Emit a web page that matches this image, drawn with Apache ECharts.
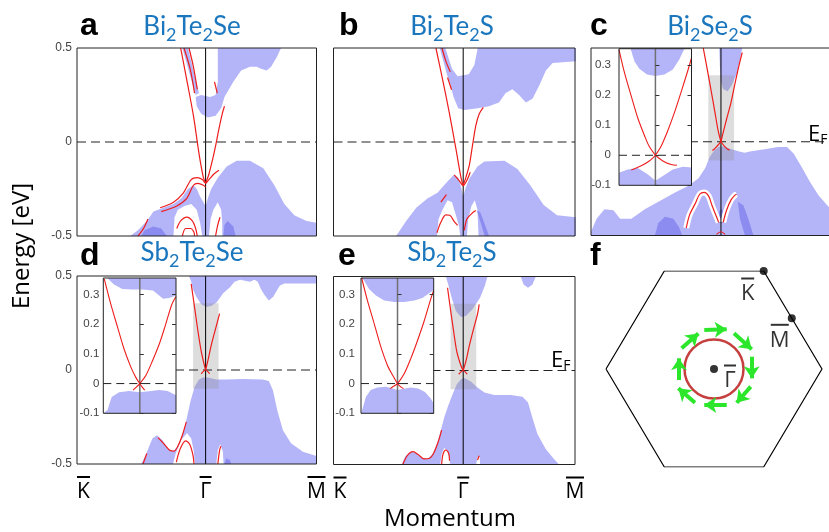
<!DOCTYPE html>
<html>
<head>
<meta charset="utf-8">
<script src="https://cdn.jsdelivr.net/npm/echarts@6/dist/echarts.min.js"></script>
<style>
  html, body { margin: 0; padding: 0; background: #fff; }
  #chart { width: 829px; height: 532px; }
</style>
</head>
<body>
<div id="chart"></div>
<script>
// ---- axes / ticks ----
const kTicks = [-1.16, 0, 1]          // K, Gamma, M along the cut
const kLabels = ['K', 'Γ', 'M']
const eTicks = [-0.5, 0, 0.5]         // energy [eV]
const insetK = [-0.113, 0.112]
const insetE = [-0.1, 0.355]
const insetTicks = [-0.1, 0, 0.1, 0.2, 0.3]
const zoomK = [-0.113, 0.117]         // grey window shown in the insets
const zoomE = [-0.1, 0.355]

// ---- a: Bi2Te2Se ----
const aCond = [[0.11,0.5],[0.68,0.5],[0.64,0.45],[0.59,0.40],[0.55,0.38],[0.50,0.39],[0.46,0.40],[0.40,0.40],[0.32,0.38],[0.25,0.32],[0.17,0.24],[0.14,0.18],[0.09,0.14],[0.02,0.13],[-0.04,0.15],[-0.08,0.19],[-0.09,0.24],[-0.04,0.25],[0.04,0.24],[0.09,0.25],[0.11,0.32]]
const aStrip = [[-0.21,0.5],[-0.16,0.5],[-0.06,0.26],[-0.09,0.25]]
const aVal = [[-0.68,-0.5],[-0.61,-0.47],[-0.53,-0.42],[-0.47,-0.37],[-0.38,-0.35],[-0.29,-0.33],[-0.22,-0.30],[-0.16,-0.25],[-0.11,-0.23],[-0.08,-0.25],[-0.05,-0.29],[-0.02,-0.32],[0,-0.34],[0.02,-0.30],[0.05,-0.25],[0.11,-0.19],[0.19,-0.13],[0.28,-0.10],[0.40,-0.10],[0.52,-0.14],[0.62,-0.23],[0.71,-0.33],[0.80,-0.39],[0.91,-0.42],[1.0,-0.43],[1.0,-0.5]]
const aHoles = [
  [[-0.29,-0.5],[-0.28,-0.40],[-0.25,-0.36],[-0.19,-0.34],[-0.13,-0.33],[-0.08,-0.36],[-0.05,-0.43],[-0.03,-0.5]],
  [[0.03,-0.5],[0.045,-0.41],[0.07,-0.36],[0.11,-0.32],[0.14,-0.36],[0.15,-0.43],[0.15,-0.5]]
]
const aDark = [
  [[-0.58,-0.5],[-0.55,-0.47],[-0.47,-0.45],[-0.40,-0.46],[-0.35,-0.5]],
  [[0.16,-0.5],[0.17,-0.44],[0.20,-0.42],[0.25,-0.45],[0.27,-0.5]]
]
const aRed = [
  [[-0.225,0.5],[-0.17,0.33],[-0.11,0.14],[-0.06,-0.06],[-0.02,-0.19],[0,-0.22]],
  [[0,-0.22],[0.03,-0.17],[0.06,-0.10],[0.09,-0.02],[0.12,0.07],[0.15,0.15],[0.17,0.19]],
  [[-0.195,0.5],[-0.14,0.39],[-0.10,0.26]],
  [[-0.15,0.5],[-0.11,0.40],[-0.075,0.28]],
  [[0.08,0.32],[0.105,0.26]],
  [[-0.41,-0.35],[-0.29,-0.32],[-0.20,-0.27],[-0.13,-0.20],[-0.075,-0.19],[-0.03,-0.20],[0,-0.22],[0.03,-0.20],[0.075,-0.17],[0.12,-0.15]],
  [[-0.40,-0.37],[-0.26,-0.34],[-0.17,-0.30],[-0.11,-0.23],[-0.07,-0.22],[-0.02,-0.23],[0,-0.24]],
  [[-0.26,-0.46],[-0.225,-0.42],[-0.17,-0.40],[-0.12,-0.42],[-0.09,-0.46],[-0.075,-0.5]],
  [[-0.21,-0.5],[-0.18,-0.46],[-0.135,-0.46],[-0.105,-0.48],[-0.10,-0.5]],
  [[0.09,-0.5],[0.11,-0.44],[0.13,-0.40]],
  [[-0.61,-0.5],[-0.56,-0.46],[-0.52,-0.41]]
]

// ---- b: Bi2Te2S ----
const bCond = [[-0.21,0.5],[-0.16,0.5],[-0.10,0.39],[-0.05,0.35],[0.05,0.36],[0.10,0.41],[0.13,0.5],[1.01,0.5],[1.01,0.43],[0.80,0.42],[0.74,0.38],[0.68,0.30],[0.62,0.23],[0.56,0.21],[0.50,0.25],[0.44,0.28],[0.38,0.26],[0.32,0.21],[0.23,0.19],[0.13,0.18],[0.01,0.17],[-0.045,0.18],[-0.086,0.24],[-0.116,0.31],[-0.146,0.36]]
const bVal = [[-0.60,-0.5],[-0.51,-0.42],[-0.42,-0.35],[-0.32,-0.30],[-0.23,-0.27],[-0.155,-0.22],[-0.086,-0.175],[-0.045,-0.19],[-0.015,-0.25],[0,-0.29],[0.018,-0.25],[0.054,-0.196],[0.128,-0.13],[0.19,-0.104],[0.37,-0.10],[0.485,-0.143],[0.60,-0.23],[0.72,-0.335],[0.84,-0.39],[1.01,-0.40],[1.01,-0.5]]
const bHoles = [
  [[-0.235,-0.5],[-0.22,-0.41],[-0.185,-0.36],[-0.14,-0.31],[-0.10,-0.32],[-0.065,-0.39],[-0.036,-0.45],[-0.027,-0.5]],
  [[0.033,-0.5],[0.045,-0.41],[0.074,-0.34],[0.104,-0.31],[0.128,-0.36],[0.137,-0.5]]
]
const bDark = [[[0.122,-0.365],[0.152,-0.373],[0.232,-0.5],[0.193,-0.5]]]
const bRed = [
  [[-0.244,0.5],[-0.185,0.335],[-0.125,0.158],[-0.065,-0.037],[-0.02,-0.188],[0,-0.232]],
  [[0,-0.232],[0.024,-0.188],[0.054,-0.126],[0.083,-0.019],[0.113,0.087],[0.143,0.149],[0.18,0.184]],
  [[-0.19,0.5],[-0.155,0.43],[-0.116,0.373]],
  [[-0.14,0.343],[-0.104,0.278]],
  [[-0.08,-0.175],[-0.036,-0.205],[0,-0.232],[0.039,-0.196],[0.063,-0.161]],
  [[-0.2,-0.32],[-0.15,-0.28]],
  [[-0.235,-0.483],[-0.2,-0.427],[-0.155,-0.388],[-0.12,-0.39],[-0.08,-0.423],[-0.05,-0.444]],
  [[0.01,-0.47],[0.033,-0.41],[0.074,-0.382],[0.113,-0.365]]
]

// ---- c: Bi2Se2S ----
const cCond = [[-0.015,0.5],[0.19,0.5],[0.17,0.44],[0.14,0.36],[0.095,0.30],[0.06,0.27],[0.02,0.28],[0,0.32],[-0.01,0.41]]
const cVal = [[-1.16,-0.5],[-1.16,-0.48],[-1.11,-0.41],[-1.04,-0.36],[-0.96,-0.365],[-0.90,-0.41],[-0.80,-0.41],[-0.68,-0.36],[-0.53,-0.31],[-0.41,-0.27],[-0.29,-0.235],[-0.20,-0.195],[-0.14,-0.14],[-0.10,-0.08],[-0.06,-0.046],[-0.024,-0.028],[0,-0.023],[0.036,-0.028],[0.095,-0.04],[0.155,-0.05],[0.21,-0.058],[0.27,-0.05],[0.39,-0.04],[0.51,-0.028],[0.59,-0.028],[0.65,-0.064],[0.72,-0.135],[0.795,-0.214],[0.87,-0.285],[0.96,-0.347],[1.02,-0.365],[1.02,-0.5]]
const cDark = [
  [[-0.59,-0.5],[-0.56,-0.435],[-0.50,-0.40],[-0.425,-0.41],[-0.375,-0.455],[-0.345,-0.5]],
  [[-0.03,-0.43],[-0.018,-0.373],[0.006,-0.356],[0.036,-0.382],[0.042,-0.427],[0.006,-0.435]],
  [[0.15,-0.32],[0.2,-0.338],[0.244,-0.41],[0.29,-0.5],[0.214,-0.5],[0.17,-0.41]]
]
const cArches = [
  [[-0.31,-0.46],[-0.28,-0.39],[-0.23,-0.33],[-0.19,-0.28],[-0.15,-0.27],[-0.11,-0.29],[-0.08,-0.34],[-0.04,-0.40],[-0.02,-0.43]],
  [[0.02,-0.43],[0.05,-0.365],[0.09,-0.31],[0.125,-0.285],[0.14,-0.28]]
]
const cRed = [
  [[-0.158,0.5],[-0.128,0.405],[-0.09,0.28],[-0.054,0.158],[-0.024,0.055],[0,0]],
  [[0,0],[0.02,0.05],[0.05,0.12],[0.09,0.21],[0.125,0.31],[0.16,0.405],[0.19,0.476]],
  [[0,0],[-0.03,-0.02],[-0.06,-0.04],[-0.077,-0.046]],
  [[0,0],[0.03,-0.023],[0.06,-0.04],[0.077,-0.044]],
  [[-0.04,-0.494],[0,-0.48],[0.036,-0.494]]
].concat(cArches)
const ciTop = [[-0.077,0.355],[0.09,0.355],[0.074,0.319],[0.054,0.286],[0.028,0.269],[0,0.264],[-0.026,0.269],[-0.05,0.288],[-0.065,0.313]]
const ciBot = [[-0.113,-0.1],[-0.113,-0.058],[-0.086,-0.047],[-0.055,-0.042],[-0.024,-0.063],[0,-0.085],[0.023,-0.069],[0.054,-0.047],[0.085,-0.038],[0.112,-0.041],[0.112,-0.1]]
const ciRed = [
  [[-0.113,0.352],[-0.096,0.275],[-0.075,0.197],[-0.055,0.125],[-0.034,0.066],[-0.019,0.029],[0,0]],
  [[0,0],[0.018,0.031],[0.038,0.081],[0.059,0.142],[0.079,0.208],[0.1,0.28],[0.112,0.324]],
  [[-0.075,-0.049],[-0.044,-0.035],[-0.019,-0.019],[0,0]],
  [[0,0],[0.023,-0.019],[0.049,-0.031],[0.067,-0.033]]
]

// ---- d: Sb2Te2Se ----
const dCond = [[-0.15,0.5],[1.0,0.5],[1.0,0.46],[0.71,0.46],[0.67,0.45],[0.64,0.42],[0.61,0.39],[0.57,0.37],[0.53,0.40],[0.50,0.43],[0.47,0.47],[0.44,0.48],[0.40,0.47],[0.31,0.48],[0.26,0.47],[0.22,0.44],[0.16,0.41],[0.10,0.36],[0.05,0.34],[0.006,0.335],[-0.04,0.35],[-0.084,0.39],[-0.114,0.43],[-0.13,0.47]]
const dVal = [[-0.58,-0.5],[-0.535,-0.444],[-0.48,-0.365],[-0.44,-0.347],[-0.39,-0.373],[-0.34,-0.418],[-0.294,-0.432],[-0.255,-0.409],[-0.21,-0.347],[-0.174,-0.267],[-0.138,-0.17],[-0.10,-0.09],[-0.06,-0.051],[-0.024,-0.04],[0.02,-0.04],[0.096,-0.051],[0.186,-0.051],[0.336,-0.048],[0.516,-0.051],[0.57,-0.058],[0.607,-0.108],[0.646,-0.214],[0.697,-0.32],[0.77,-0.39],[0.877,-0.435],[1.0,-0.458],[1.0,-0.5]]
const dHoles = [
  [[-0.294,-0.5],[-0.27,-0.444],[-0.22,-0.373],[-0.168,-0.335],[-0.13,-0.365],[-0.108,-0.427],[-0.096,-0.5]],
  [[0.096,-0.5],[0.11,-0.427],[0.132,-0.395],[0.156,-0.435],[0.162,-0.5]]
]
const dDark = [[[0.17,-0.5],[0.186,-0.47],[0.22,-0.48],[0.23,-0.5]]]
const dRed = [
  [[-0.13,0.458],[-0.10,0.335],[-0.07,0.21],[-0.04,0.10],[-0.015,0.034],[0,0]],
  [[0,0],[0.02,0.048],[0.05,0.13],[0.09,0.22],[0.126,0.30]],
  [[-0.04,-0.02],[0,0],[0.036,-0.02]],
  [[-0.565,-0.5],[-0.53,-0.444]],
  [[-0.43,-0.36],[-0.38,-0.39],[-0.324,-0.427],[-0.285,-0.432],[-0.25,-0.405],[-0.21,-0.347],[-0.174,-0.276]],
  [[-0.264,-0.49],[-0.228,-0.418],[-0.18,-0.377],[-0.144,-0.395],[-0.114,-0.453],[-0.105,-0.5]],
  [[0.11,-0.5],[0.126,-0.427],[0.138,-0.405]]
]
const diTop = [[-0.10,0.355],[0.112,0.355],[0.112,0.296],[0.091,0.288],[0.072,0.285],[0.06,0.296],[0.041,0.313],[0.008,0.316],[-0.023,0.316],[-0.054,0.318],[-0.08,0.333],[-0.095,0.349]]
const diBot = [[-0.113,-0.1],[-0.10,-0.089],[-0.087,-0.045],[-0.064,-0.029],[-0.033,-0.025],[0,-0.029],[0.029,-0.026],[0.06,-0.022],[0.086,-0.025],[0.112,-0.039],[0.112,-0.1]]
const diRed = [
  [[-0.11,0.352],[-0.09,0.268],[-0.069,0.19],[-0.049,0.117],[-0.028,0.056],[-0.012,0.02],[0,0],[0.008,-0.013],[0.015,-0.022]],
  [[-0.021,-0.022],[-0.01,-0.011],[0,0],[0.019,0.028],[0.039,0.076],[0.06,0.132],[0.08,0.199],[0.099,0.266],[0.112,0.293]]
]

// ---- e: Sb2Te2S ----
const eCond = [[-0.155,0.5],[0.217,0.5],[0.193,0.45],[0.152,0.388],[0.083,0.326],[0.024,0.29],[-0.02,0.285],[-0.065,0.317],[-0.104,0.388],[-0.134,0.458]]
const eLobe = [[0.515,0.5],[0.649,0.5],[0.62,0.458],[0.58,0.44],[0.54,0.458]]
const eVal = [[-0.55,-0.5],[-0.52,-0.458],[-0.467,-0.432],[-0.414,-0.44],[-0.363,-0.467],[-0.318,-0.47],[-0.274,-0.444],[-0.235,-0.39],[-0.205,-0.33],[-0.17,-0.25],[-0.134,-0.188],[-0.095,-0.126],[-0.057,-0.073],[-0.02,-0.046],[0.009,-0.04],[0.068,-0.058],[0.128,-0.09],[0.19,-0.117],[0.277,-0.13],[0.426,-0.13],[0.53,-0.14],[0.58,-0.17],[0.613,-0.24],[0.664,-0.338],[0.738,-0.418],[0.81,-0.47],[0.857,-0.5]]
const eHoles = [
  [[-0.205,-0.5],[-0.193,-0.444],[-0.17,-0.412],[-0.14,-0.427],[-0.122,-0.47],[-0.116,-0.5]],
  [[0.116,-0.5],[0.128,-0.462],[0.146,-0.458],[0.152,-0.5]]
]
const eRed = [
  [[-0.14,0.44],[-0.116,0.335],[-0.086,0.21],[-0.057,0.10],[-0.02,0.025],[0,0]],
  [[0,0],[0.024,0.048],[0.054,0.13],[0.092,0.22],[0.128,0.30],[0.143,0.352]],
  [[-0.04,-0.02],[0,0],[0.036,-0.02]],
  [[-0.54,-0.5],[-0.50,-0.453],[-0.45,-0.432],[-0.40,-0.448],[-0.35,-0.47],[-0.30,-0.467],[-0.26,-0.435],[-0.22,-0.373],[-0.193,-0.317]],
  [[-0.193,-0.5],[-0.18,-0.444],[-0.155,-0.423],[-0.13,-0.44],[-0.122,-0.48]],
  [[0.128,-0.476],[0.143,-0.453]]
]
const eiTop = [[-0.111,0.355],[0.112,0.355],[0.112,0.315],[0.098,0.304],[0.077,0.288],[0.052,0.279],[0.021,0.274],[-0.01,0.274],[-0.041,0.279],[-0.067,0.296],[-0.088,0.318],[-0.103,0.346]]
const eiBot = [[-0.113,-0.1],[-0.108,-0.084],[-0.098,-0.045],[-0.083,-0.022],[-0.062,-0.013],[-0.036,-0.011],[-0.015,-0.017],[0,-0.022],[0.015,-0.018],[0.041,-0.013],[0.064,-0.017],[0.085,-0.028],[0.103,-0.05],[0.112,-0.067],[0.112,-0.1]]
const eiRed = [
  [[-0.111,0.355],[-0.093,0.279],[-0.072,0.201],[-0.052,0.125],[-0.031,0.061],[-0.015,0.028],[0,0],[0.01,-0.011],[0.019,-0.017]],
  [[-0.023,-0.017],[-0.012,-0.009],[0,0],[0.021,0.034],[0.041,0.084],[0.062,0.145],[0.083,0.212],[0.103,0.285],[0.112,0.313]]
]

// ---- f: surface Brillouin zone ----
const hexagon = [[-1,0],[-0.46,0.87],[0.46,0.87],[1,0],[0.46,-0.87],[-0.46,-0.87],[-1,0]]
const bzPoints = [[0.46,0.87],[0.72,0.45],[0,0]]
const bzNames = ['K', 'M', 'Γ']
const fermiCenter = [0, 0]
const spinArrows = [
  [[-0.09,0.346],[0.118,0.352]],
  [[0.185,0.317],[0.349,0.175]],
  [[0.349,0.109],[0.349,-0.083]],
  [[0.34,-0.157],[0.21,-0.3]],
  [[0.118,-0.32],[-0.09,-0.32]],
  [[-0.176,-0.3],[-0.33,-0.171]],
  [[-0.324,-0.098],[-0.324,0.095]],
  [[-0.3,0.184],[-0.145,0.316]]
]

const titles = ['Bi2Te2Se', 'Bi2Te2S', 'Bi2Se2S', 'Sb2Te2Se', 'Sb2Te2S']

// ---- styles ----
const BLUE = '#b4b4f9'
const DARK = '#8c8cf0'
const RED = '#ee1d1d'
const GREY = 'rgba(150,150,150,0.32)'
const FONT = '"Open Sans", "Noto Sans", sans-serif'
const TFONT = 'Lato, "Open Sans", sans-serif'
const TITLE_BLUE = '#1a76bd'

const panels = [
  { g: 0, blue: [aCond, aStrip, aVal], white: aHoles, dark: aDark, red: aRed, halo: [], box: false },
  { g: 1, blue: [bCond, bVal], white: bHoles, dark: bDark, red: bRed, halo: [], box: false },
  { g: 2, blue: [cCond, cVal], white: [], dark: cDark, red: cRed, halo: cArches, box: true },
  { g: 3, blue: [dCond, dVal], white: dHoles, dark: dDark, red: dRed, halo: [], box: true },
  { g: 4, blue: [eCond, eLobe, eVal], white: eHoles, dark: [], red: eRed, halo: [], box: true }
]
const insets = [
  { g: 5, blue: [ciTop, ciBot], red: ciRed, margin: 8 },
  { g: 6, blue: [diTop, diBot], red: diRed, margin: 4 },
  { g: 7, blue: [eiTop, eiBot], red: eiRed, margin: 6 }
]

// 绘制多边形（能带投影）
function polySeries(g, list, color, z) {
  return {
    type: 'custom', xAxisIndex: g, yAxisIndex: g, z: z, silent: true, clip: true,
    data: list.map(p => p[0]),
    renderItem: function (params, api) {
      const pts = list[params.dataIndex].map(pt => api.coord(pt))
      return { type: 'polygon', shape: { points: pts }, style: { fill: color } }
    }
  }
}
function lineSeries(g, data, style, z, smooth) {
  return {
    type: 'line', xAxisIndex: g, yAxisIndex: g, data: data, z: z, silent: true,
    symbol: 'none', showSymbol: false, smooth: smooth || 0, clip: true, lineStyle: style
  }
}
function frameSeries(g, z) {
  return {
    type: 'custom', xAxisIndex: g, yAxisIndex: g, z: z, silent: true, data: [[0, 0]],
    renderItem: function (params) {
      const c = params.coordSys
      return { type: 'rect', shape: { x: c.x, y: c.y, width: c.width, height: c.height },
        style: { fill: 'none', stroke: '#222', lineWidth: 1 } }
    }
  }
}
function coverSeries(g, extra, z) {
  return {
    type: 'custom', xAxisIndex: g, yAxisIndex: g, z: z, silent: true, data: [[0, 0]],
    renderItem: function (params) {
      const c = params.coordSys
      return { type: 'rect', shape: { x: c.x - extra, y: c.y, width: c.width + extra, height: c.height },
        style: { fill: '#fff' } }
    }
  }
}
function nearestIdx(arr, v) {
  let best = 0
  arr.forEach((a, i) => { if (Math.abs(a - v) < Math.abs(arr[best] - v)) best = i })
  return best
}
function barRich(size) {
  return {
    b0: { width: 13, height: 2, backgroundColor: '#000', lineHeight: 8 },
    b1: { width: 12, height: 2, backgroundColor: '#000', lineHeight: 8 },
    b2: { width: 18, height: 2, backgroundColor: '#000', lineHeight: 8 },
    t: { fontSize: size, lineHeight: size + 1, fontFamily: FONT, color: '#000' }
  }
}

const series = []
panels.forEach(p => {
  series.push(polySeries(p.g, p.blue, BLUE, 2))
  if (p.white.length) series.push(polySeries(p.g, p.white, '#fff', 3))
  if (p.dark.length) series.push(polySeries(p.g, p.dark, DARK, 4))
  if (p.box) {
    series.push(polySeries(p.g, [[[zoomK[0], zoomE[0]], [zoomK[1], zoomE[0]], [zoomK[1], zoomE[1]], [zoomK[0], zoomE[1]]]], GREY, 5))
  }
  p.halo.forEach(d => series.push(lineSeries(p.g, d, { color: '#fff', width: 6 }, 6, 0.3)))
  series.push(lineSeries(p.g, [[0, eTicks[0]], [0, eTicks[2]]], { color: '#000', width: 1 }, 7))
  series.push(lineSeries(p.g, [[kTicks[0], 0], [kTicks[2], 0]], { color: '#222', width: 1, type: [9, 5] }, 7))
  p.red.forEach(d => series.push(lineSeries(p.g, d, { color: RED, width: 1.2 }, 8, 0.3)))
  series.push(frameSeries(p.g, 30))
})
insets.forEach(p => {
  series.push(coverSeries(p.g, 27, 20))
  series.push(polySeries(p.g, p.blue, BLUE, 21))
  series.push(lineSeries(p.g, [[0, insetE[0]], [0, insetE[1]]], { color: '#707070', width: 1.5 }, 22))
  series.push(lineSeries(p.g, [[insetK[0], 0], [insetK[1], 0]], { color: '#222', width: 1, type: [8, 5] }, 22))
  p.red.forEach(d => series.push(lineSeries(p.g, d, { color: RED, width: 1.1 }, 23, 0.3)))
  series.push(frameSeries(p.g, 24))
})

// 布里渊区
series.push(lineSeries(8, hexagon, { color: '#000', width: 1.2 }, 4))
series.push({
  type: 'scatter', xAxisIndex: 8, yAxisIndex: 8, z: 5, silent: true,
  data: [fermiCenter], symbol: 'circle', symbolSize: 59,
  itemStyle: { color: 'rgba(0,0,0,0)', borderColor: '#b80f0f', borderWidth: 2.5 }
})
series.push({
  type: 'lines', coordinateSystem: 'cartesian2d', xAxisIndex: 8, yAxisIndex: 8, z: 6, silent: true,
  symbol: ['none', 'arrow'], symbolSize: 12,
  lineStyle: { color: '#2ce62c', width: 4, opacity: 1, curveness: 0 },
  data: spinArrows.map(c => ({ coords: c }))
})
const bzOffsets = [[-16, 19], [-12, 18], [16, 8]]
series.push({
  type: 'scatter', xAxisIndex: 8, yAxisIndex: 8, z: 7, silent: true, symbolSize: 8,
  itemStyle: { color: '#000' },
  data: bzPoints.map((p, i) => ({
    value: p,
    label: {
      show: true, position: 'inside', offset: bzOffsets[i],
      formatter: '{b' + kLabels.indexOf(bzNames[i]) + '| }\n{t|' + bzNames[i] + '}',
      rich: barRich(22)
    }
  }))
})

// ---- axes ----
const grids = [
  { left: 77, top: 48, width: 239.5, height: 188 },
  { left: 333.5, top: 48, width: 241.5, height: 188 },
  { left: 591, top: 48, width: 242, height: 187.5 },
  { left: 77, top: 276, width: 239.5, height: 188 },
  { left: 333.5, top: 276.5, width: 241.5, height: 188 },
  { left: 619, top: 48.7, width: 72.5, height: 136.6 },
  { left: 103.3, top: 278, width: 72.7, height: 135.3 },
  { left: 361, top: 278, width: 72.7, height: 135.3 },
  { left: 606, top: 271, width: 216, height: 196 }
].map(g => Object.assign({ containLabel: false, outerBoundsMode: 'none' }, g))

const xAxes = []
const yAxes = []
const hidden = { axisLine: { show: false }, axisTick: { show: false }, splitLine: { show: false } }
for (let i = 0; i < 5; i++) {
  xAxes.push(Object.assign({
    gridIndex: i, type: 'value', min: kTicks[0], max: kTicks[2],
    axisLabel: (i === 3 || i === 4) ? {
      customValues: kTicks, margin: 9, alignMinLabel: 'left', alignMaxLabel: 'center',
      showMinLabel: true, showMaxLabel: true,
      formatter: v => { const k = nearestIdx(kTicks, v); return '{b' + k + '| }\n{t|' + kLabels[k] + '}' },
      rich: barRich(21)
    } : { show: false }
  }, hidden))
  yAxes.push(Object.assign({
    gridIndex: i, type: 'value', min: eTicks[0], max: eTicks[2],
    axisLabel: (i === 0 || i === 3) ? {
      customValues: eTicks, margin: 5, fontSize: 12, color: '#444', fontFamily: '"Liberation Sans", Arial',
      formatter: v => (Math.abs(v) < 1e-9 ? '0' : String(v))
    } : { show: false }
  }, hidden))
}
insets.forEach(p => {
  xAxes.push({ gridIndex: p.g, type: 'value', min: insetK[0], max: insetK[1], show: false })
  yAxes.push({
    gridIndex: p.g, type: 'value', min: insetE[0], max: insetE[1], z: 25,
    axisLine: { show: false }, splitLine: { show: false },
    axisTick: { show: true, inside: true, length: 4, customValues: insetTicks, lineStyle: { color: '#333' } },
    axisLabel: {
      customValues: insetTicks, margin: p.margin, fontSize: 11.5, color: '#444', fontFamily: '"Liberation Sans", Arial',
      formatter: v => (Math.abs(v) < 1e-9 ? '0' : v.toFixed(1))
    }
  })
})
xAxes.push({ gridIndex: 8, type: 'value', min: -1, max: 1, show: false })
yAxes.push({ gridIndex: 8, type: 'value', min: -0.87, max: 0.87, show: false })
insets.forEach(p => {
  yAxes.push({
    gridIndex: p.g, type: 'value', position: 'right', min: insetE[0], max: insetE[1], z: 25,
    axisLine: { show: false }, splitLine: { show: false }, axisLabel: { show: false },
    axisTick: { show: true, inside: true, length: 4, customValues: insetTicks, lineStyle: { color: '#333' } }
  })
})

// ---- texts ----
function titleText(s) {
  return s.replace(/([A-Za-z]+)/g, '{a|$1}').replace(/(\d)/g, '{s|$1}')
}
const titlePos = [[192, 27], [452, 27], [710, 27], [192, 253], [452, 253]]
const letterPos = [['a', 80, 26], ['b', 339, 26], ['c', 590, 26], ['d', 80, 256], ['e', 338, 256], ['f', 590, 256]]
const graphics = []
titles.forEach((t, i) => {
  graphics.push({
    type: 'text', x: titlePos[i][0], y: titlePos[i][1], z: 50,
    style: {
      text: titleText(t), align: 'center', verticalAlign: 'middle',
      textAlign: 'center', textVerticalAlign: 'middle',
      rich: {
        a: { fontSize: 26, lineHeight: 26, fontFamily: TFONT, fill: TITLE_BLUE, color: TITLE_BLUE },
        s: { fontSize: 18, lineHeight: 10, height: 10, fontFamily: TFONT, fill: TITLE_BLUE, color: TITLE_BLUE, verticalAlign: 'bottom' }
      }
    }
  })
})
letterPos.forEach(l => {
  graphics.push({
    type: 'text', x: l[1], y: l[2], z: 50,
    style: { text: l[0], font: 'bold 32px "Liberation Sans", Arial', fill: '#000',
      align: 'left', verticalAlign: 'middle', textAlign: 'left', textVerticalAlign: 'middle' }
  })
})
;[[808, 135], [551, 361]].forEach(p => {
  graphics.push({
    type: 'text', x: p[0], y: p[1], z: 50,
    style: {
      text: '{e|E}{f|F}', align: 'left', verticalAlign: 'middle', textAlign: 'left', textVerticalAlign: 'middle',
      rich: {
        e: { fontSize: 22, lineHeight: 22, fontFamily: FONT, fill: '#000' },
        f: { fontSize: 14, lineHeight: 12, height: 12, fontFamily: FONT, fill: '#000', verticalAlign: 'bottom' }
      }
    }
  })
})
graphics.push({
  type: 'text', x: 22, y: 246, rotation: Math.PI / 2, z: 50,
  style: { text: 'Energy [eV]', font: '24px ' + FONT, fill: '#000',
    align: 'center', verticalAlign: 'middle', textAlign: 'center', textVerticalAlign: 'middle' }
})
graphics.push({
  type: 'text', x: 450, y: 519, z: 50,
  style: { text: 'Momentum', font: '24px ' + FONT, fill: '#000',
    align: 'center', verticalAlign: 'middle', textAlign: 'center', textVerticalAlign: 'middle' }
})

const myChart = echarts.init(document.getElementById('chart'), null, { renderer: 'canvas' })
myChart.setOption({
  animation: false,
  backgroundColor: '#fff',
  grid: grids,
  xAxis: xAxes,
  yAxis: yAxes,
  series: series,
  graphic: graphics
})
</script>
</body>
</html>
